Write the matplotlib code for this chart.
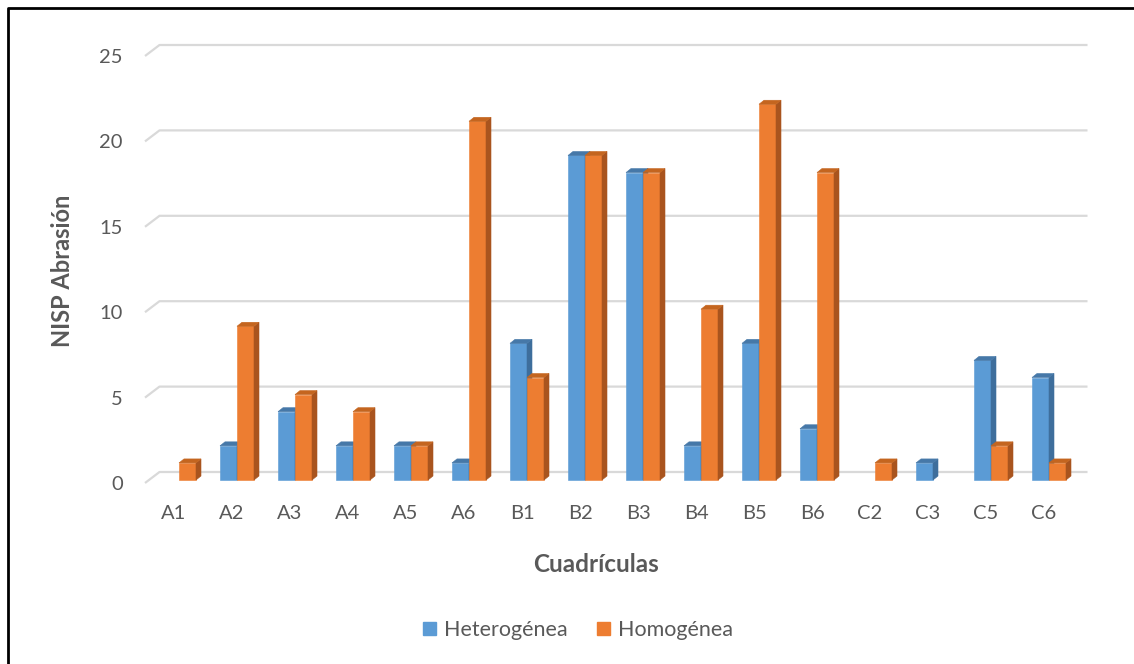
import matplotlib
matplotlib.use("Agg")
import matplotlib.pyplot as plt
from matplotlib.patches import Polygon, Patch
from matplotlib.transforms import ScaledTranslation

plt.rcParams['font.family'] = ['Lato', 'DejaVu Sans']

cuadriculas = ['A1', 'A2', 'A3', 'A4', 'A5', 'A6', 'B1', 'B2', 'B3', 'B4',
               'B5', 'B6', 'C2', 'C3', 'C5', 'C6']
heterogenea = [0, 2, 4, 2, 2, 1, 8, 19, 18, 2, 8, 3, 0, 1, 7, 6]
homogenea = [1, 9, 5, 4, 2, 21, 6, 19, 18, 10, 22, 18, 1, 0, 2, 1]
yticks = [0, 5, 10, 15, 20, 25]

# front, side and top shades for the pseudo-3D columns
blue = ('#5B9BD5', '#3E6E9C', '#4678A8')
orange = ('#ED7D31', '#A9541E', '#C4651F')

W, H = 1134, 664
fig = plt.figure(figsize=(W / 100, H / 100), dpi=100)

# axes box = front plane of the chart, in pixels
left, right, top, bottom = 145, 1073, 56, 483
ax = fig.add_axes([left / W, 1 - bottom / H, (right - left) / W, (bottom - top) / H])
xmin, xmax, ymin, ymax = -0.5, 15.5, 0, 25
ax.set_xlim(xmin, xmax)
ax.set_ylim(ymin, ymax)
for s in ax.spines.values():
    s.set_visible(False)

ppx = (right - left) / (xmax - xmin)   # pixels per x unit
ppy = (bottom - top) / (ymax - ymin)   # pixels per y unit

# back wall gridlines with a short slanted lead-in from the front plane
wall_dx, wall_dy = 14.5 / ppx, 11 / ppy
for v in yticks:
    ax.plot([xmin, xmin + wall_dx, xmax + wall_dx], [v, v + wall_dy, v + wall_dy],
            color='#D9D9D9', lw=1.6, clip_on=False, zorder=1,
            solid_capstyle='butt')

# columns sit a little behind the front plane
shift = ax.transData + ScaledTranslation(5 / 100, 3 / 100, fig.dpi_scale_trans)
bw = 17 / ppx
side_dx, top_dy = 5 / ppx, 4 / ppy


def column(x0, h, shades, z):
    front, side, cap = shades
    ax.bar(x0, h, width=bw, align='edge', color=front, lw=0.4, edgecolor=front,
           transform=shift, zorder=z, clip_on=False)
    x1 = x0 + bw
    ax.add_patch(Polygon([(x1, 0), (x1 + side_dx, top_dy), (x1 + side_dx, h + top_dy), (x1, h)],
                         closed=True, fc=side, ec=side, lw=0.4, transform=shift,
                         zorder=z, clip_on=False))
    ax.add_patch(Polygon([(x0, h), (x1, h), (x1 + side_dx, h + top_dy), (x0 + side_dx, h + top_dy)],
                         closed=True, fc=cap, ec=cap, lw=0.4, transform=shift,
                         zorder=z, clip_on=False))


z = 3
for i in range(len(cuadriculas)):
    if heterogenea[i] > 0:
        column(i - bw, heterogenea[i], blue, z)
    z += 1
    if homogenea[i] > 0:
        column(i, homogenea[i], orange, z)
    z += 1

ax.set_xticks(range(len(cuadriculas)))
ax.set_xticklabels(cuadriculas)
ax.set_yticks(yticks)
ax.tick_params(axis='both', length=0, labelsize=14.5, colors='#595959')
ax.tick_params(axis='x', pad=16)
ax.tick_params(axis='y', pad=16)

fig.text(63 / W, 1 - 271 / H, 'NISP Abrasión', rotation=90, ha='center', va='center',
         fontsize=17, fontweight='bold', color='#595959')
fig.text(596 / W, 1 - 565 / H, 'Cuadrículas', ha='center', va='center',
         fontsize=17.5, fontweight='bold', color='#595959')

handles = [Patch(color=blue[0], label='Heterogénea'), Patch(color=orange[0], label='Homogénea')]
leg = fig.legend(handles=handles, loc='center', bbox_to_anchor=(578 / W, 1 - 630 / H),
                 ncol=2, frameon=False, fontsize=15.5, handlelength=0.6, handleheight=0.6,
                 handletextpad=0.35, columnspacing=1.4)
for t in leg.get_texts():
    t.set_color('#595959')

# outer frame: only top and left edges show
fig.add_artist(plt.Line2D([8 / W, 8 / W, 1], [0, 1 - 8 / H, 1 - 8 / H],
                          transform=fig.transFigure, color='black', lw=2))

fig.savefig('out.png', dpi=100, facecolor='white')
